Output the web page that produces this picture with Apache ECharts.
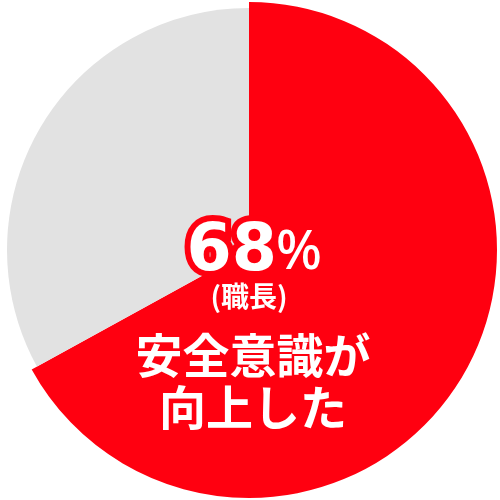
<!DOCTYPE html>
<html>
<head>
<meta charset="utf-8">
<script src="https://cdn.jsdelivr.net/npm/echarts@6/dist/echarts.min.js"></script>
<style>
html,body{margin:0;padding:0;background:#fff;}
#c{width:500px;height:500px;}
</style>
</head>
<body>
<div id="c"></div>
<script>
// Data
const categories = ['安全意識が向上した', 'その他'];
const shares = [67, 33];
const percentText = '68';
const percentSign = '%';
const subLabel = '(職長)';
const mainLines = ['安全意識が', '向上した'];

const RED = '#ff0010';
const GRAY = '#e2e2e2';

const chart = echarts.init(document.getElementById('c'), null, {renderer: 'canvas'});

const redData = categories.map((c, i) => ({
  name: c, value: shares[i],
  itemStyle: {color: i === 0 ? RED : 'rgba(0,0,0,0)'}
}));
const grayData = categories.map((c, i) => ({
  name: c, value: shares[i],
  itemStyle: {color: i === 1 ? GRAY : 'rgba(0,0,0,0)'}
}));

const cjk = '"Noto Sans CJK JP", "Noto Sans", sans-serif';

chart.setOption({
  animation: false,
  backgroundColor: '#ffffff',
  series: [
    {
      type: 'pie', silent: true, center: [249, 250], radius: [0, 248],
      startAngle: 90, clockwise: true, label: {show: false}, labelLine: {show: false},
      itemStyle: {borderWidth: 0},
      data: redData
    },
    {
      type: 'pie', silent: true, center: [249, 250], radius: [0, 242],
      startAngle: 90, clockwise: true, label: {show: false}, labelLine: {show: false},
      itemStyle: {borderWidth: 0},
      data: grayData
    }
  ],
  graphic: [
    {
      type: 'text', x: 277, y: 253, z: 10,
      style: {
        text: percentText, fill: '#fff', stroke: RED, lineWidth: 12,
        font: 'bold 65px "DejaVu Sans", sans-serif',
        align: 'right', verticalAlign: 'middle'
      }
    },
    {
      type: 'text', x: 276, y: 254, z: 10,
      style: {
        text: percentSign, fill: '#fff', stroke: RED, lineWidth: 8,
        font: '500 54px "Noto Sans", sans-serif',
        align: 'left', verticalAlign: 'middle'
      }
    },
    {
      type: 'text', x: 249, y: 296, z: 10,
      style: {
        text: subLabel, fill: '#fff',
        font: 'bold 28px ' + cjk,
        align: 'center', verticalAlign: 'middle'
      }
    },
    {
      type: 'text', x: 253, y: 355, z: 10,
      style: {
        text: mainLines[0], fill: '#fff',
        font: 'bold 47px ' + cjk,
        align: 'center', verticalAlign: 'middle'
      }
    },
    {
      type: 'text', x: 253, y: 407, z: 10,
      style: {
        text: mainLines[1], fill: '#fff',
        font: 'bold 47px ' + cjk,
        align: 'center', verticalAlign: 'middle'
      }
    }
  ]
});
</script>
</body>
</html>
